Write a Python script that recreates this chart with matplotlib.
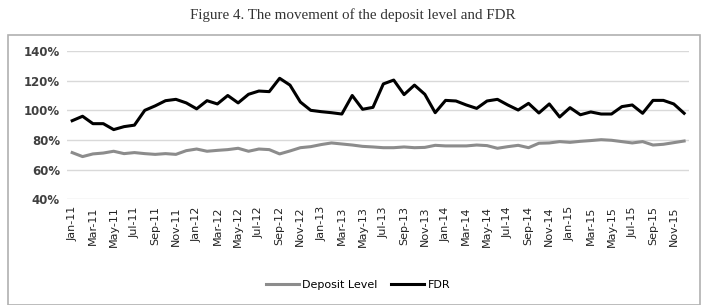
import matplotlib
matplotlib.use("Agg")
import matplotlib.pyplot as plt
from matplotlib.patches import Rectangle
import pandas as pd

# monthly data, Jan-11 .. Dec-15
months = pd.date_range("2011-01-01", "2015-12-01", freq="MS").strftime("%b-%y").tolist()

deposit = [71.5, 68.8, 70.6, 71.2, 72.4, 70.8, 71.5, 70.8, 70.3, 70.8,
           70.3, 72.8, 73.9, 72.4, 73.0, 73.5, 74.4, 72.4, 73.9, 73.5,
           70.6, 72.6, 74.8, 75.5, 76.9, 78.0, 77.3, 76.6, 75.7, 75.3,
           74.8, 74.8, 75.3, 74.8, 75.0, 76.4, 76.0, 76.0, 76.0, 76.6,
           76.2, 74.4, 75.5, 76.4, 74.8, 77.8, 78.0, 78.9, 78.4, 79.1,
           79.6, 80.2, 79.8, 78.9, 78.0, 78.9, 76.6, 77.1, 78.2, 79.3]

fdr = [93.0, 96.0, 91.0, 91.0, 87.0, 89.0, 90.0, 100.0, 103.0, 106.5,
       107.4, 105.0, 101.0, 106.5, 104.3, 110.0, 105.0, 110.8, 113.0, 112.6,
       121.6, 117.0, 105.6, 100.0, 99.1, 98.4, 97.5, 110.0, 100.7, 102.0,
       117.8, 120.4, 110.6, 117.0, 110.8, 98.4, 106.7, 106.3, 103.6, 101.3,
       106.3, 107.4, 103.6, 100.2, 104.7, 98.2, 104.3, 95.5, 101.8, 97.0,
       98.9, 97.5, 97.5, 102.5, 103.6, 98.0, 106.7, 106.7, 104.3, 98.0]

yticks = [40, 60, 80, 100, 120, 140]

fig = plt.figure(figsize=(7.06, 3.05), dpi=100)

# chart frame
fig.patches.append(Rectangle((8 / 706, 0.0), 692 / 706, 1 - 35 / 305,
                             transform=fig.transFigure, fill=False,
                             edgecolor="#b0b0b0", linewidth=1.2))

fig.text(0.5, 0.95, "Figure 4. The movement of the deposit level and FDR",
         ha="center", va="center", fontsize=10.8, family="Liberation Serif",
         color="#333333")

ax = fig.add_axes([67 / 706, 1 - 199.3 / 305, 622.3 / 706, 148.3 / 305])

x = range(len(months))
ax.plot(x, deposit, color="#8c8c8c", linewidth=2.2, label="Deposit Level")
ax.plot(x, fdr, color="black", linewidth=2.2, label="FDR")

ax.set_xlim(-0.5, len(months) - 0.5)
ax.set_ylim(40, 140)
ax.set_yticks(yticks)
ax.set_yticklabels([f"{v}%" for v in yticks], fontsize=8.5, fontweight="bold",
                   color="#404040")
ax.set_xticks(list(x)[::2])
ax.set_xticklabels(months[::2], rotation=90, fontsize=8, color="#222222")
ax.tick_params(length=0, pad=5)
ax.grid(axis="y", color="#d9d9d9", linewidth=1)
ax.set_axisbelow(True)
for s in ax.spines.values():
    s.set_visible(False)

fig.legend(loc="center", bbox_to_anchor=(358 / 706, 1 - 285 / 305), ncol=2,
           frameon=False, fontsize=8, handlelength=3, columnspacing=1.2,
           handletextpad=0.3)

fig.savefig("out.png", dpi=100)
